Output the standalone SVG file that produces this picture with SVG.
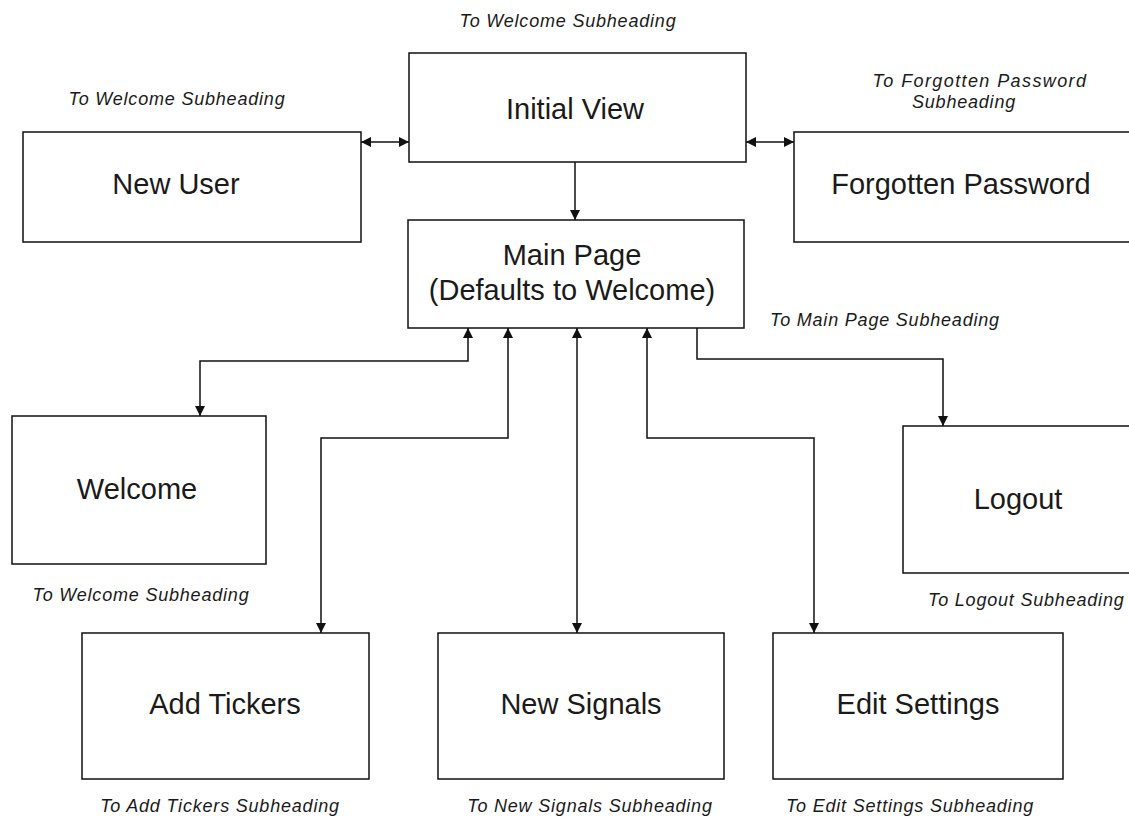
<svg xmlns="http://www.w3.org/2000/svg" width="1129" height="817" viewBox="0 0 1129 817">
  <style>
    .box { fill: #ffffff; stroke: #111111; stroke-width: 1.5; }
    .t { font-family: "Liberation Sans", Arial, sans-serif; font-size: 29px; fill: #1a1a1a; text-anchor: middle; }
    .lbl { font-family: "Liberation Sans", Arial, sans-serif; font-size: 18px; font-style: italic; fill: #1a1a1a; text-anchor: middle; letter-spacing: 0.8px; }
    .c { fill: none; stroke: #111111; stroke-width: 1.5; }
  </style>
  <defs>
    <marker id="ah" viewBox="0 0 10 10" refX="10" refY="5" markerWidth="10" markerHeight="10" markerUnits="userSpaceOnUse" orient="auto-start-reverse">
      <path d="M0,0 L10,5 L0,10 z" fill="#111111"/>
    </marker>
  </defs>
  <rect width="1129" height="817" fill="#ffffff"/>

  <g id="labels">
    <text class="lbl" x="568" y="27">To Welcome Subheading</text>
    <text class="lbl" x="177" y="105">To Welcome Subheading</text>
    <text class="lbl" x="980" y="87" style="letter-spacing:1.4px">To Forgotten Password</text>
    <text class="lbl" x="964" y="108">Subheading</text>
    <text class="lbl" x="770" y="326" style="text-anchor:start">To Main Page Subheading</text>
    <text class="lbl" x="141" y="601">To Welcome Subheading</text>
    <text class="lbl" x="928" y="606" style="text-anchor:start">To Logout Subheading</text>
    <text class="lbl" x="220" y="812">To Add Tickers Subheading</text>
    <text class="lbl" x="590" y="812">To New Signals Subheading</text>
    <text class="lbl" x="910" y="812">To Edit Settings Subheading</text>
  </g>

  <g id="connectors">
    <path class="c" d="M361,142 L409,142" marker-start="url(#ah)" marker-end="url(#ah)"/>
    <path class="c" d="M746,142 L794,142" marker-start="url(#ah)" marker-end="url(#ah)"/>
    <path class="c" d="M575,162 L575,220" marker-end="url(#ah)"/>
    <path class="c" d="M468,328 L468,361 L200,361 L200,416" marker-start="url(#ah)" marker-end="url(#ah)"/>
    <path class="c" d="M508,328 L508,438 L321,438 L321,633" marker-start="url(#ah)" marker-end="url(#ah)"/>
    <path class="c" d="M577,328 L577,633" marker-start="url(#ah)" marker-end="url(#ah)"/>
    <path class="c" d="M647,328 L647,438 L814,438 L814,633" marker-start="url(#ah)" marker-end="url(#ah)"/>
    <path class="c" d="M697,328 L697,359 L943,359 L943,426" marker-end="url(#ah)"/>
  </g>

  <g id="initial-view">
    <rect class="box" x="409" y="53" width="337" height="109"/>
    <text class="t" x="575" y="119">Initial View</text>
  </g>
  <g id="new-user">
    <rect class="box" x="23" y="132" width="338" height="110"/>
    <text class="t" x="176" y="194">New User</text>
  </g>
  <g id="forgotten-password">
    <rect class="box" x="794" y="132" width="345" height="110"/>
    <text class="t" x="961" y="194">Forgotten Password</text>
  </g>
  <g id="main-page">
    <rect class="box" x="408" y="220" width="336" height="108"/>
    <text class="t" x="572" y="265">Main Page</text>
    <text class="t" x="572" y="300">(Defaults to Welcome)</text>
  </g>
  <g id="welcome">
    <rect class="box" x="12" y="416" width="254" height="148"/>
    <text class="t" x="137" y="499">Welcome</text>
  </g>
  <g id="logout">
    <rect class="box" x="903" y="426" width="240" height="147"/>
    <text class="t" x="1018" y="509">Logout</text>
  </g>
  <g id="add-tickers">
    <rect class="box" x="82" y="633" width="287" height="146"/>
    <text class="t" x="225" y="714">Add Tickers</text>
  </g>
  <g id="new-signals">
    <rect class="box" x="438" y="633" width="286" height="146"/>
    <text class="t" x="581" y="714">New Signals</text>
  </g>
  <g id="edit-settings">
    <rect class="box" x="773" y="633" width="290" height="146"/>
    <text class="t" x="918" y="714">Edit Settings</text>
  </g>
</svg>
